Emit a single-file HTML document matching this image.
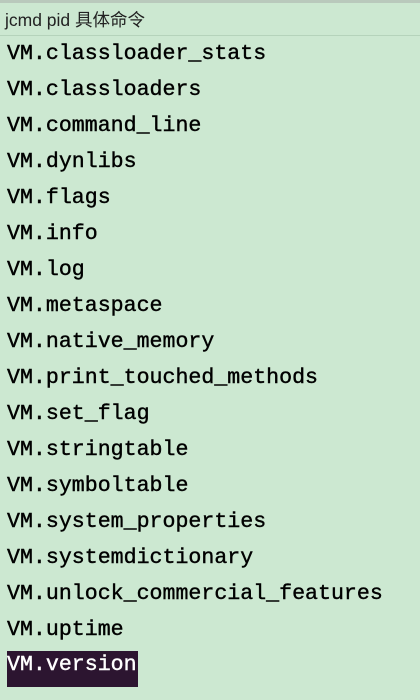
<!DOCTYPE html>
<html><head><meta charset="utf-8"><style>
html,body{margin:0;padding:0}
body{width:420px;height:700px;background:#cce8d1;position:relative;overflow:hidden}
.top{position:absolute;left:0;top:0;width:420px;height:3px;background:#b9c9bc}
.hd{position:absolute;left:5px;top:7px;font:17.5px "Liberation Sans","Noto Sans CJK SC",sans-serif;color:#222;line-height:26px}
.sep{position:absolute;left:0;top:35px;width:420px;height:1px;background:#b5d3bb}
.l{position:absolute;left:7px;font:21.6px "Liberation Mono",monospace;color:#000;line-height:36px;height:36px;white-space:pre;-webkit-text-stroke:0.4px #000}
.hl{background:#2c1530;color:#fff;-webkit-text-stroke:0.4px #fff;padding-right:1px}
</style></head><body>
<div class="top"></div>
<div class="hd">jcmd pid 具体命令</div>
<div class="sep"></div>
<div class="l" style="top:36px">VM.classloader_stats</div>
<div class="l" style="top:72px">VM.classloaders</div>
<div class="l" style="top:108px">VM.command_line</div>
<div class="l" style="top:144px">VM.dynlibs</div>
<div class="l" style="top:180px">VM.flags</div>
<div class="l" style="top:216px">VM.info</div>
<div class="l" style="top:252px">VM.log</div>
<div class="l" style="top:288px">VM.metaspace</div>
<div class="l" style="top:324px">VM.native_memory</div>
<div class="l" style="top:360px">VM.print_touched_methods</div>
<div class="l" style="top:396px">VM.set_flag</div>
<div class="l" style="top:432px">VM.stringtable</div>
<div class="l" style="top:468px">VM.symboltable</div>
<div class="l" style="top:504px">VM.system_properties</div>
<div class="l" style="top:540px">VM.systemdictionary</div>
<div class="l" style="top:576px">VM.unlock_commercial_features</div>
<div class="l" style="top:612px">VM.uptime</div>
<div class="l hl" style="top:651px;height:36px;line-height:28px">VM.version</div>
</body></html>
